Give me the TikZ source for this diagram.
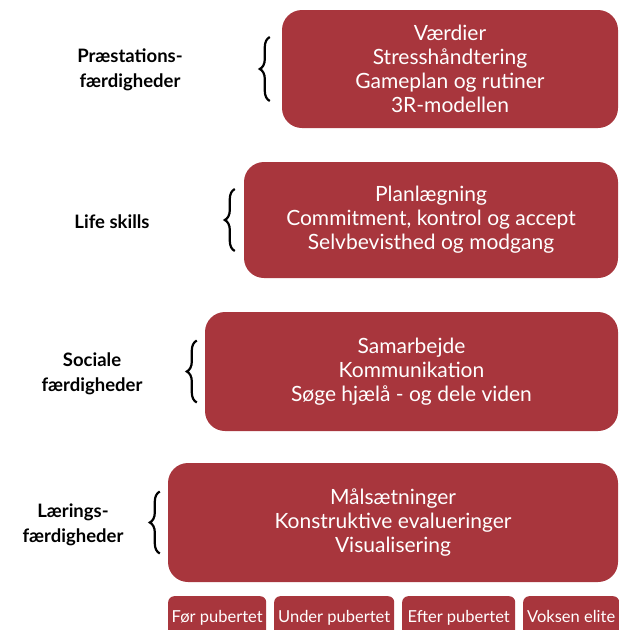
\documentclass[tikz,border=0pt]{standalone}
\usepackage{fontspec}
\setmainfont{Lato}
\usetikzlibrary{decorations.pathreplacing}
\definecolor{skillred}{HTML}{A8363D}

\begin{document}
\begin{tikzpicture}[x = 1pt, y = -1pt,
  skillbox/.style = {fill = skillred, rounded corners = 20pt, text = white, align = center,
    inner sep = 0pt, font = \fontsize{21}{24}\selectfont},
  agebox/.style = {fill = skillred, rounded corners = 6pt, text = white, inner sep = 0pt,
    anchor = north west, minimum height = 44pt, text depth = 4pt, font = \fontsize{16.5}{18}\selectfont},
  skilllabel/.style = {align = center, font = \fontsize{18.5}{25}\selectfont\bfseries},
  skillbrace/.style = {line width = 2.2pt, decorate, decoration = {brace, amplitude = 10pt}}]
\useasboundingbox (0, 0) rectangle (619, 630);
% skill boxes
\node [skillbox, minimum width = 336pt, minimum height = 118pt] (praest) at (450, 69)
  {V\ae rdier\\Stressh\aa ndtering\\Gameplan og rutiner\\3R-modellen};
\node [skillbox, minimum width = 374pt, minimum height = 116pt] (life) at (431, 220)
  {Planl\ae gning\\Commitment, kontrol og accept\\Selvbevisthed og modgang};
\node [skillbox, minimum width = 413pt, minimum height = 119pt] (social) at (411.5, 371.5)
  {Samarbejde\\Kommunikation\\S\o ge hj\ae l\aa{} - og dele viden};
\node [skillbox, minimum width = 450pt, minimum height = 119pt] (laering) at (393, 522.5)
  {M\aa ls\ae tninger\\Konstruktive evalueringer\\Visualisering};
% braces
\draw [skillbrace] ([xshift = -12pt, yshift = -32pt]praest.west) -- ([xshift = -12pt, yshift = 32pt]praest.west);
\draw [skillbrace] ([xshift = -9pt, yshift = -31pt]life.west) -- ([xshift = -9pt, yshift = 31pt]life.west);
\draw [skillbrace] ([xshift = -8pt, yshift = -31pt]social.west) -- ([xshift = -8pt, yshift = 31pt]social.west);
\draw [skillbrace] ([xshift = -8pt, yshift = -31pt]laering.west) -- ([xshift = -8pt, yshift = 31pt]laering.west);
% labels
\node [skilllabel] (lpraest) at (130, 70) {Pr\ae stations-\\f\ae rdigheder};
\node [skilllabel] (llife) at (112, 222) {Life skills};
\node [skilllabel] (lsocial) at (92, 374) {Sociale\\f\ae rdigheder};
\node [skilllabel] (llaering) at (73, 525) {L\ae rings-\\f\ae rdigheder};
% age tabs
\node [agebox, minimum width = 98pt] (foer) at (168, 596) {F\o r pubertet};
\node [agebox, minimum width = 120pt] (under) at (274, 596) {Under pubertet};
\node [agebox, minimum width = 113pt] (efter) at (402, 596) {Efter pubertet};
\node [agebox, minimum width = 96pt] (voksen) at (523, 596) {Voksen elite};
\end{tikzpicture}
\end{document}
